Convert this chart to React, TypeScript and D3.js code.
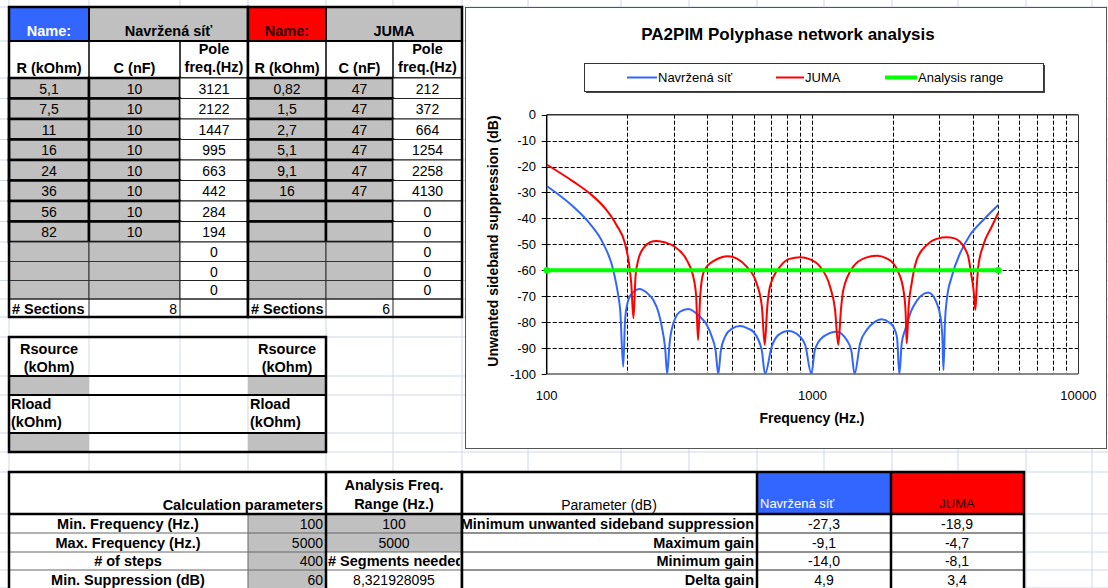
import React from 'react';
import * as d3 from 'd3';

// ---------------- DATA ----------------
const designName = 'Navržená síť';
const jumaName = 'JUMA';
const designR = ['5,1', '7,5', '11', '16', '24', '36', '56', '82', '', '', ''];
const designC = ['10', '10', '10', '10', '10', '10', '10', '10', '', '', ''];
const designPole = ['3121', '2122', '1447', '995', '663', '442', '284', '194', '0', '0', '0'];
const jumaR = ['0,82', '1,5', '2,7', '5,1', '9,1', '16', '', '', '', '', ''];
const jumaC = ['47', '47', '47', '47', '47', '47', '', '', '', '', ''];
const jumaPole = ['212', '372', '664', '1254', '2258', '4130', '0', '0', '0', '0', '0'];
const designSections = '8';
const jumaSections = '6';

const calcLabels = ['Min. Frequency (Hz.)', 'Max. Frequency (Hz.)', '# of steps', 'Min. Suppression (dB)'];
const calcValues = ['100', '5000', '400', '60'];
const analysisValues = ['100', '5000', '# Segments needed', '8,321928095'];
const paramLabels = ['Minimum unwanted sideband suppression', 'Maximum gain', 'Minimum gain', 'Delta gain'];
const designParams = ['-27,3', '-9,1', '-14,0', '4,9'];
const jumaParams = ['-18,9', '-4,7', '-8,1', '3,4'];

const chartTitle = 'PA2PIM Polyphase network analysis';
const yTitle = 'Unwanted sideband suppression (dB)';
const xTitle = 'Frequency (Hz.)';
const yTicks = [0, -10, -20, -30, -40, -50, -60, -70, -80, -90, -100];
const xTickLabels = [100, 1000, 10000];
const xGrid = [200, 300, 400, 500, 600, 700, 800, 900, 1000, 2000, 3000, 4000, 5000, 6000, 7000, 8000, 9000];

const blueFreq = [100, 126, 145, 163, 178, 186, 189, 194, 197, 200, 209, 224, 237, 252, 263, 271, 279, 284, 290, 295, 317, 341, 377, 400, 418, 432, 442, 452, 469, 498, 534, 570, 599, 644, 663, 702, 743, 811, 898, 940, 990, 1021, 1098, 1233, 1345, 1400, 1440, 1510, 1600, 1700, 1821, 1950, 2014, 2080, 2122, 2166, 2230, 2395, 2728, 2934, 3030, 3080, 3110, 3150, 3199, 3340, 3589, 3914, 4392, 5000];
const blueDb = [-27.5, -35.5, -41.9, -49.6, -59.9, -70, -75.3, -97.2, -80, -74, -68.9, -67.2, -68.5, -71.5, -76, -81.8, -90, -100, -88, -83, -76, -74.9, -77.9, -81, -85.6, -91, -100, -91, -85.6, -82.5, -81.5, -82.4, -83.7, -90.7, -100, -89.5, -85, -83.4, -85.6, -89, -100, -90.7, -85.6, -83.7, -86.9, -91, -100, -88.2, -83, -80.2, -78.9, -80.2, -81.8, -86, -100, -88.2, -83, -74, -68.6, -72.7, -78, -86, -98.5, -80, -71.5, -62.5, -53.5, -46.4, -40.6, -34.8];

const redFreq = [100, 126, 145, 168, 183, 197, 203, 208, 212, 216, 221, 231, 245, 259, 280, 300, 336, 356, 365, 371, 378, 388, 405, 424, 480, 520, 565, 616, 645, 661, 676, 692, 755, 820, 898, 980, 1067, 1164, 1215, 1250, 1280, 1306, 1424, 1580, 1744, 1900, 2014, 2110, 2198, 2240, 2262, 2300, 2361, 2466, 2690, 2950, 3199, 3400, 3589, 3760, 3857, 3950, 4040, 4100, 4150, 4205, 4392, 4722, 5000];
const redDb = [-19.2, -25.8, -30.3, -36.8, -42.5, -49.6, -56, -65, -78.5, -62, -56, -51.5, -49.2, -48.7, -49.3, -50.6, -56, -62.5, -70, -86.9, -70, -61.2, -58, -56.5, -54.6, -55.5, -58.6, -65, -74, -88.8, -74, -66.3, -58.6, -55.6, -55, -55.8, -58.6, -66.3, -75, -88.8, -75, -67.6, -58.6, -55.2, -54.4, -55.4, -57.3, -61, -67.6, -76, -88.2, -74, -65, -56, -50.3, -47.8, -47.3, -47.6, -49, -52, -54.8, -61.2, -68, -75.3, -66, -58.6, -50.3, -43.2, -37.8];

const rangeFreq = [100, 5000];
const rangeDb = [-60, -60];

// ---------------- LAYOUT ----------------
const FONT = "'Liberation Sans', Arial, Helvetica, sans-serif";
const GRID = '#d0d7e5';
const GREY = '#c0c0c0';
const BLUE = '#3366ff';
const RED = '#ff0000';
const BOLD = 14.5;
const colX = [9, 89, 180, 248, 326, 393, 462];
const sheetCols = [9, 89, 180, 248, 326, 393, 462, 528, 621, 689, 757, 824, 892, 958, 1026, 1092];
const sheetRows = [7, 41, 78, 98.5, 119, 139.5, 160, 180.5, 201, 221.5, 242, 261.5, 280.5, 299, 317, 337, 376, 395, 433, 452, 472, 514, 533, 552, 570, 588];
const dataRows = [78, 98.5, 119, 139.5, 160, 180.5, 201, 221.5, 242, 261.5, 280.5, 299];
const botRows = [514, 533, 552, 570, 589];
const crisp = (v: number) => Math.round(v) + 0.5;

function T(props: any) {
  const { children, ...rest } = props;
  const fs = rest.fontWeight === 'bold' && rest.fontSize === undefined ? BOLD : 14;
  return (
    <text fontFamily={FONT} fontSize={fs} dominantBaseline="central" fill="#000" {...rest}>
      {children}
    </text>
  );
}

function TopBlock({ c0, nameFill, nameColor, label, rVals, cVals, poles, sections }: any) {
  const x0 = colX[c0], x1 = colX[c0 + 1], x2 = colX[c0 + 2], x3 = colX[c0 + 3];
  const cells: any[] = [];
  for (let i = 0; i < 11; i++) {
    const ya = dataRows[i], yb = dataRows[i + 1];
    const thick = i < 8;
    cells.push(
      <g key={i}>
        <rect x={x0} y={ya} width={x1 - x0} height={yb - ya} fill={GREY} stroke={thick ? '#000' : '#333'} strokeWidth={thick ? 2.5 : 1} />
        <rect x={x1} y={ya} width={x2 - x1} height={yb - ya} fill={GREY} stroke={thick ? '#000' : '#333'} strokeWidth={thick ? 2.5 : 1} />
        <rect x={x2} y={ya} width={x3 - x2} height={yb - ya} fill="#fff" stroke="#222" strokeWidth={1} />
        <T x={(x0 + x1) / 2} y={(ya + yb) / 2 + 0.5} textAnchor="middle">{rVals[i]}</T>
        <T x={(x1 + x2) / 2} y={(ya + yb) / 2 + 0.5} textAnchor="middle">{cVals[i]}</T>
        <T x={(x2 + x3) / 2} y={(ya + yb) / 2 + 0.5} textAnchor="middle">{poles[i]}</T>
      </g>
    );
  }
  return (
    <g>
      <rect x={x0} y={7} width={x3 - x0} height={310} fill="#fff" />
      <rect x={x0} y={7} width={x1 - x0} height={34} fill={nameFill} stroke="#000" strokeWidth={2} />
      <rect x={x1} y={7} width={x3 - x1} height={34} fill={GREY} stroke="#000" strokeWidth={2} />
      <T x={(x0 + x1) / 2} y={31} textAnchor="middle" fontWeight="bold" fill={nameColor}>Name:</T>
      <T x={(x1 + x3) / 2} y={31} textAnchor="middle" fontWeight="bold">{label}</T>
      <line x1={x1} x2={x1} y1={41} y2={78} stroke="#000" strokeWidth={1.5} />
      <line x1={x2} x2={x2} y1={41} y2={78} stroke="#000" strokeWidth={1.5} />
      <line x1={x0} x2={x3} y1={78} y2={78} stroke="#000" strokeWidth={1.5} />
      <T x={(x0 + x1) / 2} y={68} textAnchor="middle" fontWeight="bold">R (kOhm)</T>
      <T x={(x1 + x2) / 2} y={68} textAnchor="middle" fontWeight="bold">C (nF)</T>
      <T x={(x2 + x3) / 2} y={49} textAnchor="middle" fontWeight="bold">Pole</T>
      <T x={(x2 + x3) / 2} y={67} textAnchor="middle" fontWeight="bold">freq.(Hz)</T>
      {cells}
      <line x1={x0} x2={x3} y1={299} y2={299} stroke="#222" strokeWidth={1} />
      <line x1={x1} x2={x1} y1={299} y2={317} stroke="#222" strokeWidth={1} />
      <line x1={x2} x2={x2} y1={299} y2={317} stroke="#222" strokeWidth={1} />
      <T x={x0 + 3} y={308.5} fontWeight="bold">{'# Sections'}</T>
      <T x={x2 - 3} y={308.5} textAnchor="end">{sections}</T>
      <rect x={x0} y={7} width={x3 - x0} height={310} fill="none" stroke="#000" strokeWidth={2.5} />
    </g>
  );
}

function Chart() {
  const x = d3.scaleLog().domain([100, 10000]).range([546.7, 1078.3]);
  const y = d3.scaleLinear().domain([-100, 0]).range([374, 114.7]);
  const line = d3
    .line<[number, number]>()
    .x((d) => x(d[0]))
    .y((d) => y(d[1]))
    .curve(d3.curveMonotoneX);
  const blue = blueFreq.map((f, i) => [f, blueDb[i]] as [number, number]);
  const red = redFreq.map((f, i) => [f, redDb[i]] as [number, number]);
  const range = rangeFreq.map((f, i) => [f, rangeDb[i]] as [number, number]);
  const [l, r] = x.range();
  const [b, t] = y.range();
  return (
    <g>
      <defs>
        <clipPath id="plotClip">
          <rect x={l} y={t - 2} width={r - l} height={b - t + 2} />
        </clipPath>
      </defs>
      <rect x={465.5} y={7.5} width={641} height={441} fill="#fff" stroke="#555" strokeWidth={1} />
      <T x={788} y={34} textAnchor="middle" fontWeight="bold" fontSize={17}>{chartTitle}</T>
      {/* legend */}
      <rect x={586} y={65} width={459} height={28} fill="#444" />
      <rect x={584.5} y={63.5} width={459} height={28} fill="#fff" stroke="#333" strokeWidth={1} />
      <line x1={627} x2={657} y1={77.5} y2={77.5} stroke={BLUE} strokeWidth={2} />
      <T x={658} y={77} fontSize={13}>{designName}</T>
      <line x1={776} x2={804} y1={77.5} y2={77.5} stroke={RED} strokeWidth={2} />
      <T x={805} y={77} fontSize={13}>{jumaName}</T>
      <line x1={885} x2={917} y1={77.5} y2={77.5} stroke="#00ff00" strokeWidth={4} />
      <T x={918} y={77} fontSize={13}>Analysis range</T>
      {/* grid */}
      {yTicks.filter((v) => v !== 0 && v !== -100).map((v) => (
        <line key={'h' + v} x1={l} x2={r} y1={crisp(y(v))} y2={crisp(y(v))} stroke="#000" strokeWidth={1} strokeDasharray="4,2" />
      ))}
      {xGrid.map((v) => (
        <line key={'v' + v} x1={crisp(x(v))} x2={crisp(x(v))} y1={t} y2={b} stroke="#000" strokeWidth={1} strokeDasharray="4,2" />
      ))}
      <line x1={l} x2={r} y1={t} y2={t} stroke="#333" strokeWidth={1.5} />
      <line x1={crisp(r)} x2={crisp(r)} y1={t} y2={b} stroke="#333" strokeWidth={1} />
      <line x1={l} x2={r} y1={b} y2={b} stroke="#888" strokeWidth={2} />
      <line x1={l} x2={l} y1={t} y2={b} stroke="#000" strokeWidth={1.5} />
      {yTicks.map((v) => (
        <g key={'t' + v}>
          <line x1={l - 5} x2={l} y1={crisp(y(v))} y2={crisp(y(v))} stroke="#000" strokeWidth={1} />
          <T x={536} y={y(v)} textAnchor="end" fontSize={13}>{v}</T>
        </g>
      ))}
      {xTickLabels.map((v) => (
        <T key={'x' + v} x={x(v)} y={395} textAnchor="middle" fontSize={13}>{v}</T>
      ))}
      <T x={812} y={418} textAnchor="middle" fontWeight="bold" fontSize={14}>{xTitle}</T>
      <T x={0} y={0} textAnchor="middle" fontWeight="bold" fontSize={14} transform="translate(493,241) rotate(-90)">{yTitle}</T>
      <g clipPath="url(#plotClip)">
        <path d={line(blue) || ''} fill="none" stroke={BLUE} strokeWidth={2} strokeLinejoin="round" />
        <path d={line(red) || ''} fill="none" stroke={RED} strokeWidth={2} strokeLinejoin="round" />
      </g>
      <path d={line(range) || ''} fill="none" stroke="#00ff00" strokeWidth={4} />
      {range.map((d, i) => (
        <circle key={'m' + i} cx={x(d[0])} cy={y(d[1])} r={3.2} fill="#00ff00" />
      ))}
    </g>
  );
}

export default function App() {
  return (
    <svg width={1108} height={588} style={{ position: 'absolute', left: 0, top: 0, background: '#fff' }}>
      <rect x={0} y={0} width={1108} height={588} fill="#fff" />
      {sheetCols.map((c) => (
        <line key={'sc' + c} x1={c} x2={c} y1={0} y2={588} stroke={GRID} strokeWidth={1} />
      ))}
      {sheetRows.map((rw) => (
        <line key={'sr' + rw} x1={0} x2={1108} y1={rw} y2={rw} stroke={GRID} strokeWidth={1} />
      ))}

      <TopBlock c0={0} nameFill={BLUE} nameColor="#fff" label={designName} rVals={designR} cVals={designC} poles={designPole} sections={designSections} />
      <TopBlock c0={3} nameFill={RED} nameColor="#2a0000" label={jumaName} rVals={jumaR} cVals={jumaC} poles={jumaPole} sections={jumaSections} />

      {/* Rsource / Rload */}
      <rect x={9} y={337} width={317} height={115} fill="#fff" />
      {sheetCols.filter((c) => c > 9 && c < 326).map((c) => (
        <line key={'rc' + c} x1={c} x2={c} y1={337} y2={452} stroke={GRID} strokeWidth={1} />
      ))}
      <rect x={9} y={376} width={80} height={19} fill={GREY} />
      <rect x={248} y={376} width={78} height={19} fill={GREY} />
      <rect x={9} y={433} width={80} height={19} fill={GREY} />
      <rect x={248} y={433} width={78} height={19} fill={GREY} />
      {[376, 395, 433].map((yy) => (
        <line key={'rl' + yy} x1={9} x2={326} y1={yy} y2={yy} stroke="#000" strokeWidth={2} />
      ))}
      <rect x={9} y={337} width={317} height={115} fill="none" stroke="#000" strokeWidth={2.5} />
      <T x={49} y={349} textAnchor="middle" fontWeight="bold">Rsource</T>
      <T x={49} y={367} textAnchor="middle" fontWeight="bold">(kOhm)</T>
      <T x={287} y={349} textAnchor="middle" fontWeight="bold">Rsource</T>
      <T x={287} y={367} textAnchor="middle" fontWeight="bold">(kOhm)</T>
      <T x={11} y={404} fontWeight="bold">Rload</T>
      <T x={11} y={422} fontWeight="bold">(kOhm)</T>
      <T x={250} y={404} fontWeight="bold">Rload</T>
      <T x={250} y={422} fontWeight="bold">(kOhm)</T>

      {/* chart */}
      <Chart />

      {/* bottom-left table */}
      <defs>
        <clipPath id="segClip">
          <rect x={326} y={550} width={134} height={22} />
        </clipPath>
      </defs>
      <rect x={9} y={472} width={453} height={118} fill="#fff" />
      {calcValues.map((v, i) => (
        <g key={'cv' + i}>
          <rect x={248} y={botRows[i]} width={78} height={botRows[i + 1] - botRows[i]} fill={GREY} />
          {i < 2 && <rect x={326} y={botRows[i]} width={136} height={botRows[i + 1] - botRows[i]} fill={GREY} />}
          <line x1={9} x2={462} y1={botRows[i]} y2={botRows[i]} stroke="#666" strokeWidth={1} />
          <T x={128} y={(botRows[i] + botRows[i + 1]) / 2} textAnchor="middle" fontWeight="bold">{calcLabels[i]}</T>
          <T x={323} y={(botRows[i] + botRows[i + 1]) / 2} textAnchor="end">{v}</T>
          {i === 2 ? (
            <T x={328} y={(botRows[i] + botRows[i + 1]) / 2} fontWeight="bold" clipPath="url(#segClip)">{analysisValues[i]}</T>
          ) : (
            <T x={394} y={(botRows[i] + botRows[i + 1]) / 2} textAnchor="middle">{analysisValues[i]}</T>
          )}
        </g>
      ))}
      <line x1={248} x2={248} y1={514} y2={588} stroke="#666" strokeWidth={1} />
      <line x1={9} x2={462} y1={514} y2={514} stroke="#000" strokeWidth={2.5} />
      <line x1={326} x2={326} y1={472} y2={590} stroke="#000" strokeWidth={2.5} />
      <rect x={9} y={472} width={453} height={130} fill="none" stroke="#000" strokeWidth={2.5} />
      <T x={323} y={505} textAnchor="end" fontWeight="bold">Calculation parameters</T>
      <T x={394} y={485} textAnchor="middle" fontWeight="bold">Analysis Freq.</T>
      <T x={394} y={504} textAnchor="middle" fontWeight="bold">Range (Hz.)</T>

      {/* bottom-right table */}
      <rect x={462} y={472} width={562} height={118} fill="#fff" />
      <rect x={757} y={472} width={134} height={42} fill={BLUE} />
      <rect x={891} y={472} width={133} height={42} fill={RED} />
      {paramLabels.map((p, i) => (
        <g key={'pl' + i}>
          <line x1={462} x2={1024} y1={botRows[i]} y2={botRows[i]} stroke="#222" strokeWidth={1} />
          <T x={754} y={(botRows[i] + botRows[i + 1]) / 2} textAnchor="end" fontWeight="bold">{p}</T>
          <T x={824} y={(botRows[i] + botRows[i + 1]) / 2} textAnchor="middle">{designParams[i]}</T>
          <T x={957} y={(botRows[i] + botRows[i + 1]) / 2} textAnchor="middle">{jumaParams[i]}</T>
        </g>
      ))}
      <line x1={462} x2={1024} y1={514} y2={514} stroke="#000" strokeWidth={2.5} />
      <line x1={757} x2={757} y1={472} y2={590} stroke="#000" strokeWidth={2.5} />
      <line x1={891} x2={891} y1={472} y2={590} stroke="#000" strokeWidth={2.5} />
      <rect x={462} y={472} width={562} height={130} fill="none" stroke="#000" strokeWidth={2.5} />
      <T x={609} y={505} textAnchor="middle">Parameter (dB)</T>
      <T x={760} y={503} fill="#fff" fontSize={13}>{designName}</T>
      <T x={957} y={503} textAnchor="middle" fill="#2a0000" fontSize={13}>{jumaName}</T>
    </svg>
  );
}
